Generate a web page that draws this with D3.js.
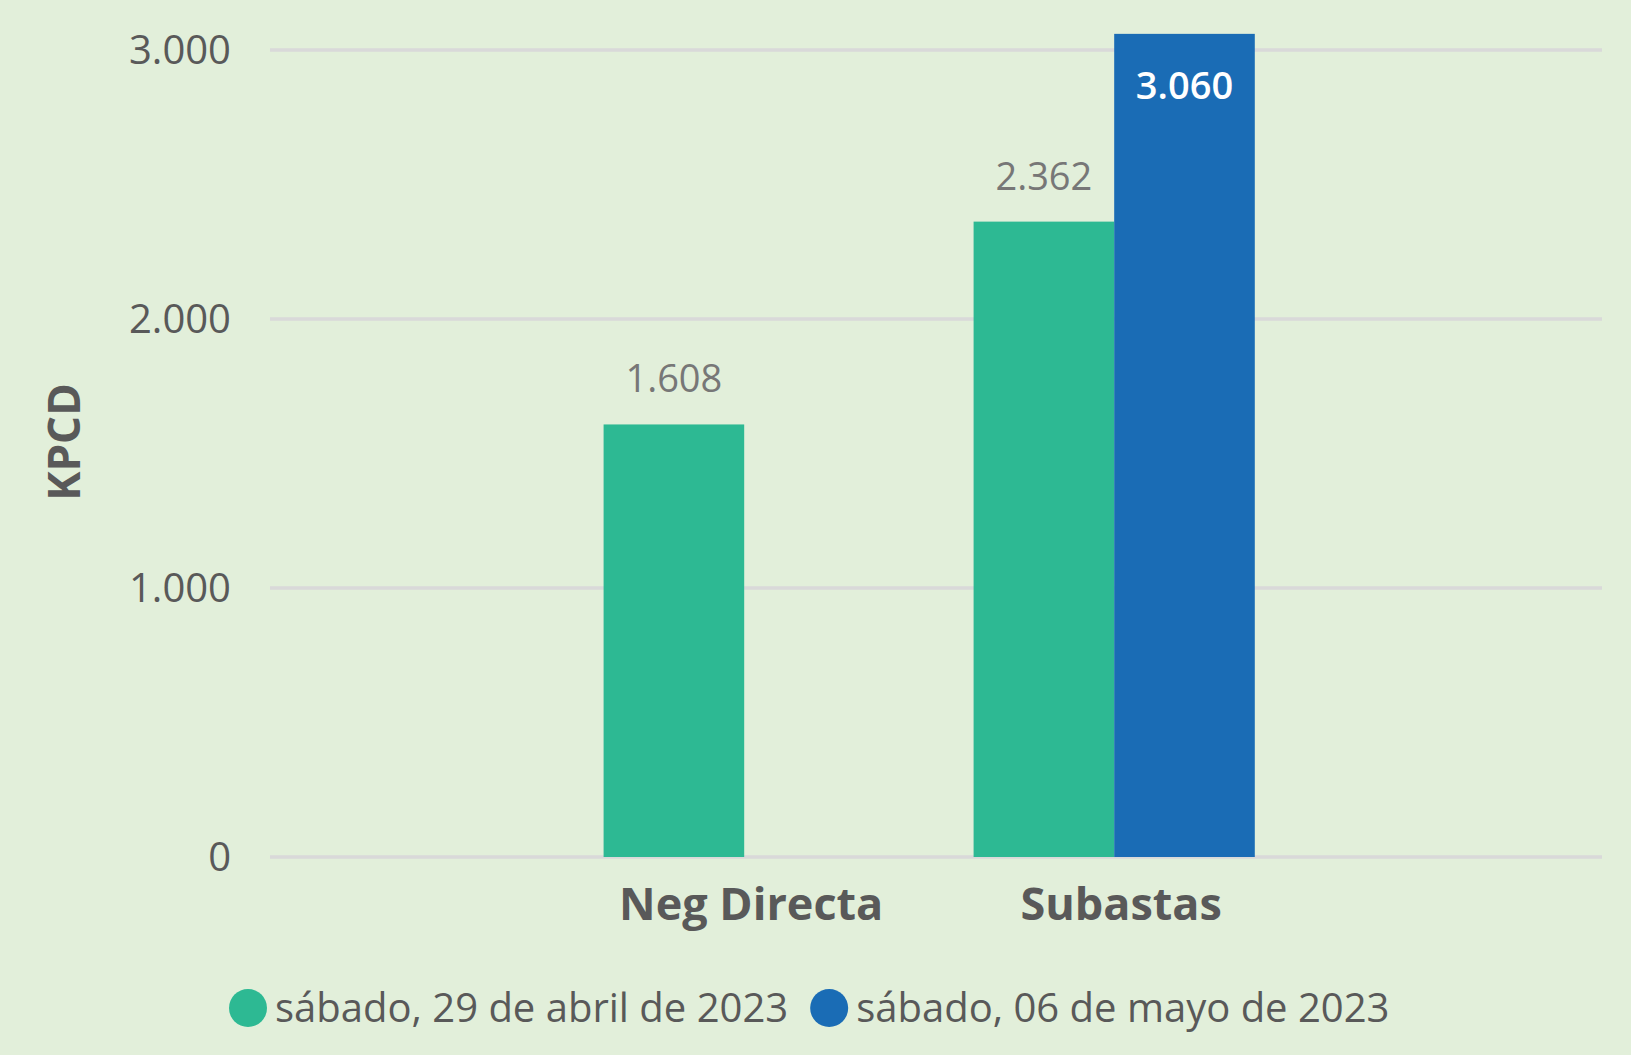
<!DOCTYPE html>
<html><head><meta charset="utf-8">
<script src="https://cdn.jsdelivr.net/npm/d3@7"></script>
<style>
html,body{margin:0;padding:0;background:#E2EFDA;}
svg{display:block;}
text{font-family:"Open Sans","Noto Sans",sans-serif;}
</style></head>
<body>
<svg id="chart" width="1631" height="1055"></svg>
<script>
const categories = ["Neg Directa", "Subastas"];
const seriesNames = ["sábado, 29 de abril de 2023", "sábado, 06 de mayo de 2023"];
const series1 = [1608, 2362];
const series2 = [null, 3060];
const yTicks = [0, 1000, 2000, 3000];
const yTitle = "KPCD";
const colors = ["#2DB993", "#1A6CB5"];

const W = 1631, H = 1055;
const svg = d3.select("#chart");
svg.append("rect").attr("width", W).attr("height", H).attr("fill", "#E2EFDA");

const loc = d3.formatLocale({decimal: ",", thousands: ".", grouping: [3], currency: ["", ""]});
const fmt = loc.format(",d");

const mLeft = 270, mRight = 1602, mTop = 50, mBottom = 857;
const y = d3.scaleLinear().domain([0, 3000]).range([mBottom, mTop]);
const x0 = d3.scaleBand().domain(categories).range([mLeft, mRight]).paddingInner(0.24).paddingOuter(0.92).align(0.49);
const x1 = d3.scaleBand().domain([0, 1]).range([0, x0.bandwidth()]).padding(0);

// gridlines
svg.append("g").selectAll("line").data(yTicks).join("line")
  .attr("x1", mLeft).attr("x2", mRight)
  .attr("y1", d => y(d)).attr("y2", d => y(d))
  .attr("stroke", "#D9D9D9").attr("stroke-width", 3.5);

// y tick labels
const yAxis = d3.axisLeft(y).tickValues(yTicks).tickFormat(fmt).tickSize(0).tickPadding(0);
const ga = svg.append("g").attr("transform", `translate(231,0)`).call(yAxis);
ga.select(".domain").remove();
ga.selectAll("text").attr("font-size", 40).attr("fill", "#595959")
  .attr("font-family", '"Open Sans",sans-serif').attr("dy", "0.34em");

// bars
const data = categories.map((c, i) => ({cat: c, vals: [series1[i], series2[i]]}));
const groups = svg.append("g").selectAll("g").data(data).join("g")
  .attr("transform", d => `translate(${x0(d.cat)},0)`);
groups.selectAll("rect").data(d => d.vals.map((v, j) => ({v, j})).filter(e => e.v != null)).join("rect")
  .attr("x", e => x1(e.j)).attr("width", x1.bandwidth())
  .attr("y", e => y(e.v)).attr("height", e => y(0) - y(e.v))
  .attr("fill", e => colors[e.j]);

// value labels
const inside = e => y(e.v) - 50 < mTop - 30;
groups.selectAll("text.val").data(d => d.vals.map((v, j) => ({v, j})).filter(e => e.v != null)).join("text")
  .attr("class", "val")
  .attr("x", e => x1(e.j) + x1.bandwidth() / 2)
  .attr("y", e => inside(e) ? y(e.v) + 65 : y(e.v) - 32)
  .attr("text-anchor", "middle").attr("font-size", 38)
  .attr("fill", e => inside(e) ? "#FFFFFF" : "#777777")
  .attr("font-weight", e => inside(e) ? 600 : 400)
  .text(e => fmt(e.v));

// category labels
svg.append("g").selectAll("text").data(categories).join("text")
  .attr("x", d => x0(d) + x0.bandwidth() / 2 + 7).attr("y", 920)
  .attr("text-anchor", "middle").attr("font-size", 45).attr("font-weight", 700)
  .attr("fill", "#595959").text(d => d);

// y title
svg.append("text").attr("transform", "translate(80,442) rotate(-90)")
  .attr("text-anchor", "middle").attr("font-size", 44).attr("font-weight", 700)
  .attr("fill", "#595959").text(yTitle);

// legend
const lg = svg.append("g");
let lx = 229;
seriesNames.forEach((s, i) => {
  lg.append("circle").attr("cx", lx + 19).attr("cy", 1008).attr("r", 19).attr("fill", colors[i]);
  const t = lg.append("text").attr("x", lx + 46).attr("y", 1022).attr("font-size", 40)
    .attr("fill", "#595959").text(s);
  lx = lx + 46 + t.node().getComputedTextLength() + 22;
});
</script>
</body></html>
